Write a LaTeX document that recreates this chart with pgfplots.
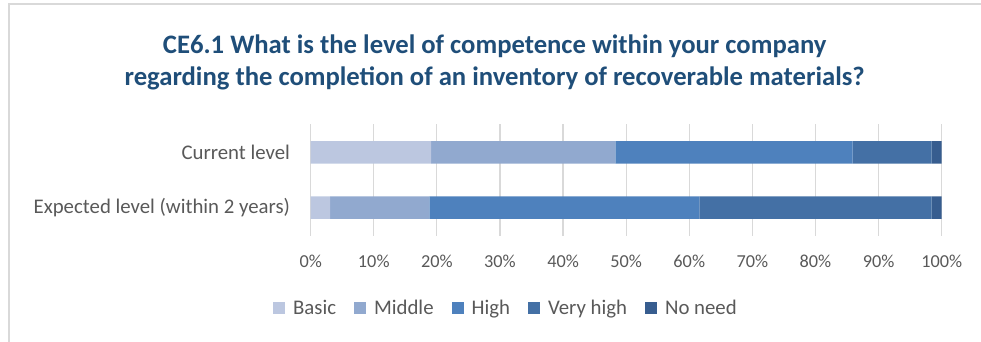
\documentclass[border=0pt]{standalone}
\usepackage{fontspec}
\setmainfont{Carlito}
\usepackage{pgfplots}
\pgfplotsset{compat=1.18}

\definecolor{cBasic}{HTML}{BCC7E0}
\definecolor{cMiddle}{HTML}{91A9CF}
\definecolor{cHigh}{HTML}{4E81BD}
\definecolor{cVhigh}{HTML}{4470A5}
\definecolor{cNone}{HTML}{375D8F}
\definecolor{titleblue}{HTML}{1F4E79}
\definecolor{txtgray}{HTML}{595959}
\definecolor{gridgray}{HTML}{D9D9D9}

\begin{document}
\begin{tikzpicture}
\useasboundingbox (0,0) rectangle (735.75pt,256.5pt);
\draw[gridgray, line width=1.2pt] (6.75pt,-5pt) rectangle (745pt,253.5pt);
\node[titleblue, align=center, font=\fontsize{20}{24}\selectfont\bfseries]
  at (371pt,209.5pt) {CE6.1 What is the level of competence within your company\\regarding the completion of an inventory of recoverable materials?};

\begin{axis}[
    at={(233pt,79.5pt)}, anchor=south west,
    scale only axis,
    width=473.25pt, height=84pt,
    xbar stacked,
    bar width=16.9pt,
    xmin=0, xmax=100,
    ymin=-0.51, ymax=1.51,
    xtick={0,10,...,100},
    xticklabels={0\%,10\%,20\%,30\%,40\%,50\%,60\%,70\%,80\%,90\%,100\%},
    ytick={0,1},
    yticklabels={Expected level (within 2 years),Current level},
    xmajorgrids,
    grid style={gridgray, line width=0.9pt},
    axis line style={draw=none},
    major tick length=0pt,
    xticklabel style={font=\fontsize{13.7}{16}\selectfont, text=txtgray, yshift=-11pt},
    yticklabel style={font=\fontsize{15.6}{18}\selectfont, text=txtgray, xshift=-12pt},
    legend columns=5,
    legend style={draw=none, at={(0.31,-0.643)}, anchor=center,
        font=\fontsize{15.6}{18}\selectfont, text=txtgray,
        /tikz/every odd column/.append style={column sep=4pt},
        /tikz/every even column/.append style={column sep=11.5pt}},
    legend image code/.code={\fill[#1] (0pt,-4.5pt) rectangle (9pt,4.5pt);},
    legend cell align=left,
]
\addplot[fill=cBasic, draw=none] coordinates {(3.1,0) (19.1,1)};
\addplot[fill=cMiddle, draw=none] coordinates {(15.7,0) (29.2,1)};
\addplot[fill=cHigh, draw=none] coordinates {(42.8,0) (37.6,1)};
\addplot[fill=cVhigh, draw=none] coordinates {(36.8,0) (12.5,1)};
\addplot[fill=cNone, draw=none] coordinates {(1.6,0) (1.6,1)};
\legend{Basic,Middle,High,Very high,No need}
\end{axis}
\end{tikzpicture}
\end{document}
